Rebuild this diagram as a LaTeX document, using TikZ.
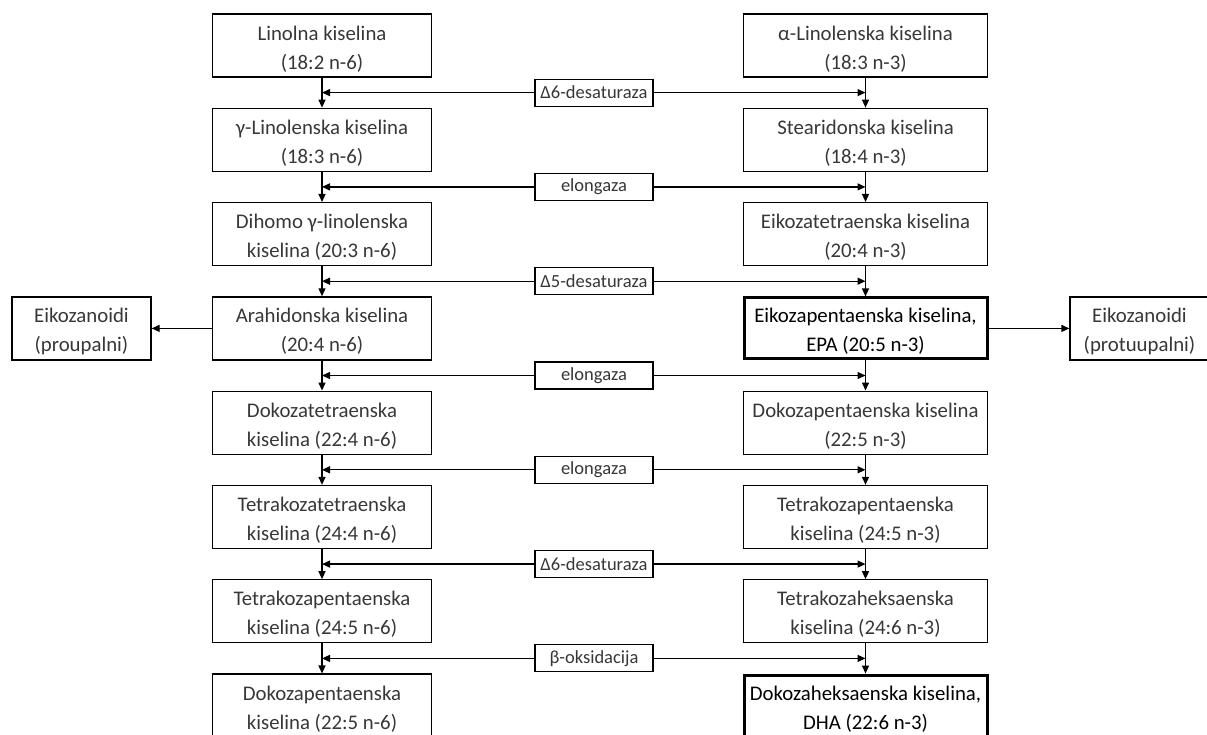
\documentclass[tikz,border=0pt]{standalone}
\usepackage{fontspec}
\setmainfont{Carlito}
\usepackage{tikz}
\usetikzlibrary{arrows.meta, positioning}
\definecolor{textgray}{RGB}{55,55,55}

\begin{document}
\begin{tikzpicture}[x=1pt, y=-1pt,
  every node/.style={font=\fontsize{20.8}{29}\selectfont, text=textgray},
  acid/.style={draw, line width=1.3pt, align=center, minimum width=219pt,
               minimum height=63pt, inner sep=0pt, text height=50pt},
  acidR/.style={acid, minimum width=244pt},
  keyacid/.style={acidR, line width=3pt, minimum width=243pt, minimum height=61pt, text=black},
  eico/.style={acid, minimum width=139pt},
  enzyme/.style={draw, line width=1.1pt, fill=white, minimum width=118pt, minimum height=27pt,
                 inner sep=0pt, font=\fontsize{18.5}{22}\selectfont},
  flow/.style={line width=1.3pt, -{Triangle[length=8pt,width=7pt]}}]
  \useasboundingbox (0,0) rectangle (1207,734);

  % n-6 column
  \node[acid] (l0) at (322,45.5)  {Linolna kiselina\\(18:2 n-6)};
  \node[acid] (l1) at (322,139.8) {γ-Linolenska kiselina\\(18:3 n-6)};
  \node[acid] (l2) at (322,234.1) {Dihomo γ-linolenska\\kiselina (20:3 n-6)};
  \node[acid] (l3) at (322,328.4) {Arahidonska kiselina\\(20:4 n-6)};
  \node[acid] (l4) at (322,422.7) {Dokozatetraenska\\kiselina (22:4 n-6)};
  \node[acid] (l5) at (322,517.0) {Tetrakozatetraenska\\kiselina (24:4 n-6)};
  \node[acid] (l6) at (322,611.3) {Tetrakozapentaenska\\kiselina (24:5 n-6)};
  \node[acid] (l7) at (322,705.6) {Dokozapentaenska\\kiselina (22:5 n-6)};

  % n-3 column
  \node[acidR] (r0) at (865.5,45.5)  {α-Linolenska kiselina\\(18:3 n-3)};
  \node[acidR] (r1) at (865.5,139.8) {Stearidonska kiselina\\(18:4 n-3)};
  \node[acidR] (r2) at (865.5,234.1) {Eikozatetraenska kiselina\\(20:4 n-3)};
  \node[keyacid] (r3) at (865.5,328.4) {Eikozapentaenska kiselina,\\EPA (20:5 n-3)};
  \node[acidR] (r4) at (865.5,422.7) {Dokozapentaenska kiselina\\(22:5 n-3)};
  \node[acidR] (r5) at (865.5,517.0) {Tetrakozapentaenska\\kiselina (24:5 n-3)};
  \node[acidR] (r6) at (865.5,611.3) {Tetrakozaheksaenska\\kiselina (24:6 n-3)};
  \node[keyacid] (r7) at (865.5,705.6) {Dokozaheksaenska kiselina,\\DHA (22:6 n-3)};

  % eicosanoids
  \node[eico] (eicoL) at (81.5,328.4)  {Eikozanoidi\\(proupalni)};
  \node[eico] (eicoR) at (1139.5,328.4) {Eikozanoidi\\(protuupalni)};

  % enzymes
  \node[enzyme] (e0) at (594,92.6)  {Δ6-desaturaza};
  \node[enzyme] (e1) at (594,186.9) {elongaza};
  \node[enzyme] (e2) at (594,281.2) {Δ5-desaturaza};
  \node[enzyme] (e3) at (594,375.5) {elongaza};
  \node[enzyme] (e4) at (594,469.8) {elongaza};
  \node[enzyme] (e5) at (594,564.1) {Δ6-desaturaza};
  \node[enzyme] (e6) at (594,658.4) {β-oksidacija};

  % connectors
  \foreach \i [evaluate=\i as \j using int(\i+1)] in {0,...,6} {
    \draw[flow] (l\i.south) -- (l\j.north);
    \draw[flow] (r\i.south) -- (r\j.north);
    \draw[flow] (e\i.west) -- (e\i -| l\i);
    \draw[flow] (e\i.east) -- (e\i -| r\i);
  }
  \draw[flow] (l3.west) -- (eicoL.east);
  \draw[flow] (r3.east) -- (eicoR.west);

\end{tikzpicture}
\end{document}
